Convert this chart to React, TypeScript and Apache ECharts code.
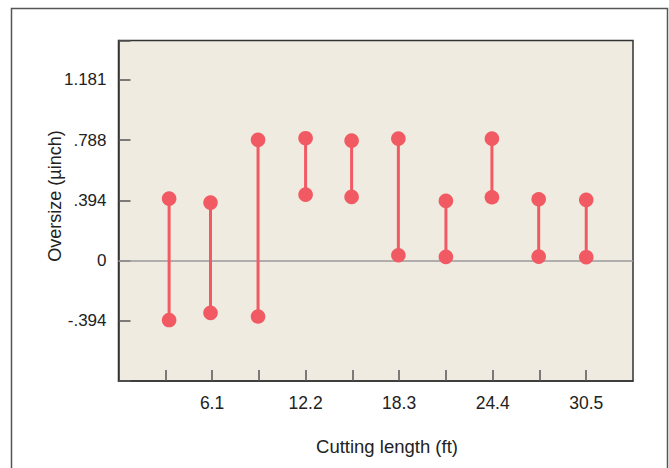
import React, { useEffect, useRef } from "react";
import * as echarts from "echarts";

const cuttingLengths = [3.3, 6.0, 9.1, 12.2, 15.2, 18.25, 21.35, 24.35, 27.4, 30.5];
const oversizeHigh = [0.405, 0.379, 0.789, 0.8, 0.784, 0.797, 0.39, 0.797, 0.401, 0.397];
const oversizeLow = [-0.389, -0.342, -0.366, 0.431, 0.416, 0.035, 0.024, 0.414, 0.026, 0.022];
const yTickValues = [-0.3937, 0, 0.3937, 0.7874, 1.1811];
const yTickLabels = ["-.394", "0", ".394", ".788", "1.181"];
const xTickLabels = ["6.1", "12.2", "18.3", "24.4", "30.5"];

const FONT = "'Liberation Sans', Arial, sans-serif";
const DOT = "#F15A63";

export default function App() {
  const ref = useRef<HTMLDivElement>(null);
  useEffect(() => {
    if (!ref.current) return;
    const chart = echarts.init(ref.current, null, { renderer: "svg" });
    const data = cuttingLengths.map((x, i) => [x, oversizeLow[i], oversizeHigh[i]]);
    chart.setOption({
      animation: false,
      backgroundColor: "#ffffff",
      grid: {
        left: 118.5,
        top: 40.5,
        right: 36,
        bottom: 87,
        show: true,
        backgroundColor: "#EFEBE1",
        borderColor: "#333333",
        borderWidth: 1.5,
      },
      graphic: [
        {
          type: "rect",
          shape: { x: 11.5, y: 8.5, width: 656, height: 500 },
          style: { fill: "none", stroke: "#555555", lineWidth: 1.5 },
          silent: true,
          z: -10,
        },
        {
          type: "text",
          x: 55,
          y: 196,
          rotation: Math.PI / 2,
          style: {
            text: "Oversize (µinch)",
            font: `18px ${FONT}`,
            fill: "#222222",
            textAlign: "center",
            textVerticalAlign: "middle",
          },
        },
        {
          type: "text",
          x: 387,
          y: 446,
          style: {
            text: "Cutting length (ft)",
            font: `18.5px ${FONT}`,
            fill: "#222222",
            textAlign: "center",
            textVerticalAlign: "middle",
          },
        },
      ],
      xAxis: {
        type: "value",
        min: 0,
        max: 33.55,
        interval: 3.05,
        splitLine: { show: false },
        axisLine: { show: true, onZero: false, lineStyle: { color: "#333333", width: 1.5 } },
        axisTick: { show: true, inside: true, length: 11, lineStyle: { color: "#555555", width: 1.5 } },
        axisLabel: {
          color: "#222222",
          fontSize: 17.5,
          fontFamily: FONT,
          margin: 13,
          showMinLabel: false,
          showMaxLabel: false,
          formatter: (v: number) => {
            const s = v.toFixed(1);
            return xTickLabels.includes(s) ? s : "";
          },
        },
      },
      yAxis: {
        type: "value",
        min: -0.7874,
        max: 1.4386,
        interval: 0.3937,
        splitLine: { show: false },
        axisLine: { show: true, onZero: false, lineStyle: { color: "#333333", width: 1.5 } },
        axisTick: { show: true, inside: true, length: 12, lineStyle: { color: "#555555", width: 1.5 } },
        axisLabel: {
          color: "#222222",
          fontSize: 17,
          fontFamily: FONT,
          margin: 12,
          formatter: (v: number) => {
            const idx = yTickValues.findIndex((t) => Math.abs(t - v) < 0.002);
            return idx >= 0 ? yTickLabels[idx] : "";
          },
        },
      },
      series: [
        {
          type: "custom",
          data,
          encode: { x: 0, y: [1, 2] },
          renderItem: (params: any, api: any) => {
            const x = api.value(0);
            const p1 = api.coord([x, api.value(1)]);
            const p2 = api.coord([x, api.value(2)]);
            return {
              type: "group",
              children: [
                {
                  type: "line",
                  shape: { x1: p1[0], y1: p1[1], x2: p2[0], y2: p2[1] },
                  style: { stroke: DOT, lineWidth: 3 },
                },
                { type: "circle", shape: { cx: p1[0], cy: p1[1], r: 7.3 }, style: { fill: DOT } },
                { type: "circle", shape: { cx: p2[0], cy: p2[1], r: 7.3 }, style: { fill: DOT } },
              ],
            };
          },
          z: 5,
          markLine: {
            silent: true,
            symbol: "none",
            label: { show: false },
            lineStyle: { color: "#9a9a9a", width: 1.5, type: "solid" },
            data: [{ yAxis: 0 }],
            z: 1,
          },
        },
      ],
    });
    return () => chart.dispose();
  }, []);
  return (
    <div
      ref={ref}
      style={{ position: "fixed", left: 0, top: 0, width: 669, height: 468 }}
    />
  );
}
